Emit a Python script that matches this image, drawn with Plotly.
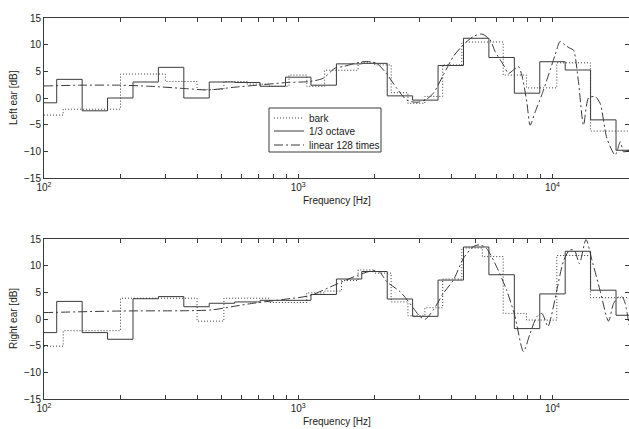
import plotly.graph_objects as go

# ---------------- data ----------------
third_oct_edges = [100, 112.2, 141.3, 177.8, 223.9, 281.8, 354.8, 446.7, 562.3, 707.9, 891.3,
                   1122, 1413, 1778, 2239, 2818, 3548, 4467, 5623, 7079, 8913, 11220, 14125,
                   17783, 20000]
third_left = [-0.9, 3.5, -2.4, 0.0, 3.0, 5.75, 0.0, 3.0, 2.9, 2.2, 3.9, 2.4, 6.4, 6.5, 0.4,
              -0.4, 6.1, 11.2, 7.6, 0.9, 6.8, 5.25, -4.1, -9.8]
third_right = [-2.55, 3.3, -2.55, -3.8, 3.8, 4.2, 2.3, 2.95, 3.2, 3.5, 3.5, 4.6, 7.5, 8.9,
               3.75, 0.5, 7.3, 13.5, 8.3, -1.8, 4.7, 12.7, 5.4, 0.7]

bark_edges = [100, 119, 200, 300, 400, 510, 630, 770, 920, 1080, 1270, 1480, 1720, 2000,
              2320, 2700, 3150, 3700, 4400, 5300, 6400, 7900, 10400, 14100, 20000]
bark_left = [-3.2, -2.1, 4.5, 3.1, 1.6, 3.1, 2.6, 2.2, 4.3, 2.2, 5.2, 5.2, 6.6, 6.2, 1.0,
             -1.0, 0.3, 6.2, 10.5, 10.5, 4.3, 1.9, 6.6, -6.2]
bark_right = [-5.1, -2.2, 3.9, 3.9, -0.4, 3.9, 3.9, 3.1, 3.1, 4.9, 5.25, 7.2, 9.2, 8.6, 3.2,
              0.6, 2.1, 7.5, 13.3, 11.7, 1.05, -0.2, 11.9, 4.0]

lin_left_f = [100, 138, 199, 261, 364, 442, 555, 707, 900, 1112, 1253, 1395, 1504, 1723, 1859,
              2036, 2230, 2442, 2673, 2926, 3155, 3400, 3720, 4077, 4466, 4889, 5272, 5684,
              5950, 6415, 6710, 7020, 7350, 7575, 7925, 8170, 8550, 9080, 9645, 10250, 10720,
              11220, 11750, 12100, 12650, 13250, 13860, 14720, 15400, 16380, 17650, 18490,
              19040, 20000]
lin_left_db = [2.25, 2.4, 2.4, 2.2, 1.75, 1.5, 2.0, 2.45, 2.9, 3.1, 3.7, 5.6, 5.9, 6.65, 6.85,
               6.5, 4.5, 1.8, -0.4, -0.8, -0.4, 0.9, 4.3, 7.8, 10.0, 11.55, 12.0, 10.9,
               8.7, 6.2, 4.6, 5.25, 5.9, 4.3, -0.7, -5.1, -2.6, 0.6, 4.3, 8.1, 10.6,
               9.9, 9.3, 9.0, 3.1, -5.1, 0.0, 0.25, -1.0, -7.6, -10.7, -8.2,
               -10.1, -9.75]

lin_right_f = [100, 200, 360, 456, 563, 655, 887, 1112, 1395, 1723, 1940, 2080, 2230, 2518,
               2753, 3013, 3155, 3400, 3720, 4077, 4466, 4889, 5180, 5500, 6030, 6600, 7100,
               7690, 8166, 8684, 9090, 9600, 9920, 10400, 11030, 11660, 12200, 12760, 13550,
               14290, 15380, 16610, 17390, 18190, 18770, 19330, 20000]
lin_right_db = [1.2, 1.5, 1.55, 1.7, 2.4, 2.9, 3.7, 4.4, 6.4, 8.25, 9.0, 8.9, 7.0, 5.1,
                2.9, 0.45, -0.05, 1.7, 4.8, 7.3, 11.4, 13.6, 13.9, 13.25, 9.8, 5.4, 0.75,
                -6.1, -2.7, 0.45, 1.05, -1.4, 0.75, 5.4, 10.75, 12.9, 12.9, 10.4, 14.9,
                11.1, 5.4, -0.4, 2.9, 4.1, 4.2, 2.9, -1.1]

y_ticks = [-15, -10, -5, 0, 5, 10, 15]
x_major = [100, 1000, 10000]
x_major_labels = ["10<sup>2</sup>", "10<sup>3</sup>", "10<sup>4</sup>"]
x_minor = [200, 300, 400, 500, 600, 700, 800, 900,
           2000, 3000, 4000, 5000, 6000, 7000, 8000, 9000, 20000]
names = ["bark", "1/3 octave", "linear 128 times"]

# ---------------- figure ----------------
LINE = "#3a3a3a"
FONT = "Liberation Sans, Arial, sans-serif"
W, H = 629, 429
ML, MR, MT, MB = 44, 0, 18, 30
PW, PH = W - ML - MR, H - MT - MB


def px_x(p):
    return (p - ML) / PW


def px_y(p):
    return (H - MB - p) / PH


fig = go.Figure()


def step(edges, vals):
    return list(edges), list(vals) + [vals[-1]]


legends = ["legend", "legend2", "legend3"]
for row, (bk, to, lf, ld) in enumerate([(bark_left, third_left, lin_left_f, lin_left_db),
                                        (bark_right, third_right, lin_right_f, lin_right_db)]):
    xa = "x" if row == 0 else "x2"
    ya = "y" if row == 0 else "y2"
    show = row == 0
    bx, by = step(bark_edges, bk)
    fig.add_trace(go.Scatter(x=bx, y=by, mode="lines", line_shape="hv", name=names[0],
                             line=dict(color=LINE, width=1, dash="1px,2px"), legend=legends[0],
                             xaxis=xa, yaxis=ya, showlegend=show))
    tx, ty = step(third_oct_edges, to)
    fig.add_trace(go.Scatter(x=tx, y=ty, mode="lines", line_shape="hv", name=names[1],
                             line=dict(color=LINE, width=1), legend=legends[1],
                             xaxis=xa, yaxis=ya, showlegend=show))
    fig.add_trace(go.Scatter(x=lf, y=ld, mode="lines", line_shape="spline", name=names[2],
                             line=dict(color=LINE, width=1, dash="9px,3px,2px,3px", smoothing=0.7),
                             legend=legends[2], xaxis=xa, yaxis=ya, showlegend=show))

tickfont = dict(size=10, color="#222", family=FONT)
xcommon = dict(type="log", range=[2, 4.30103], tickmode="array", tickvals=x_major,
               ticktext=x_major_labels, ticks="inside", ticklen=4,
               minor=dict(tickmode="array", tickvals=x_minor, ticks="inside", ticklen=4,
                          tickcolor=LINE, showgrid=False),
               tickcolor=LINE, showline=True, linecolor=LINE, linewidth=1, mirror="ticks",
               showgrid=False, zeroline=False, tickfont=tickfont, automargin=False)
ycommon = dict(range=[-15, 15], tickmode="array", tickvals=y_ticks, ticks="inside", ticklen=4,
               tickcolor=LINE, showline=True, linecolor=LINE, linewidth=1, mirror="ticks",
               showgrid=False, zeroline=False, tickfont=tickfont, automargin=False)

leg_common = dict(xanchor="left", yanchor="middle", bgcolor="rgba(0,0,0,0)", borderwidth=0,
                  font=dict(size=10, family=FONT, color="#222"))
fig.update_layout(
    width=W, height=H,
    margin=dict(l=ML, r=MR, t=MT, b=MB, autoexpand=False),
    paper_bgcolor="white", plot_bgcolor="white",
    font=dict(family=FONT, size=10, color="#222"),
    xaxis=dict(xcommon, anchor="y", domain=[0, 1]),
    yaxis=dict(ycommon, anchor="x", domain=[px_y(178), 1]),
    xaxis2=dict(xcommon, anchor="y2", domain=[0, 1]),
    yaxis2=dict(ycommon, anchor="x2", domain=[0, px_y(239)]),
    legend=dict(leg_common, x=px_x(269), y=px_y(118)),
    legend2=dict(leg_common, x=px_x(269), y=px_y(131)),
    legend3=dict(leg_common, x=px_x(269), y=px_y(145)),
    hovermode=False,
    showlegend=True,
)

# legend frame
fig.add_shape(type="rect", xref="paper", yref="paper", x0=px_x(269), x1=px_x(381),
              y0=px_y(152), y1=px_y(108), line=dict(color=LINE, width=1), fillcolor="white",
              layer="above")

ann = dict(showarrow=False, font=dict(size=10, family=FONT, color="#222"))
fig.add_annotation(text="Left ear [dB]", xref="paper", yref="paper", x=px_x(13), y=px_y(98),
                   textangle=-90, xanchor="center", yanchor="middle", **ann)
fig.add_annotation(text="Right ear [dB]", xref="paper", yref="paper", x=px_x(13), y=px_y(319),
                   textangle=-90, xanchor="center", yanchor="middle", **ann)
fig.add_annotation(text="Frequency [Hz]", xref="paper", yref="paper", x=0.5, y=px_y(200),
                   xanchor="center", yanchor="middle", **ann)
fig.add_annotation(text="Frequency [Hz]", xref="paper", yref="paper", x=0.5, y=px_y(421),
                   xanchor="center", yanchor="middle", **ann)

fig.write_html("out.html", config={"displayModeBar": False, "staticPlot": True},
               post_script="document.body.style.margin='0px';"
               "document.body.style.overflow='hidden';")
